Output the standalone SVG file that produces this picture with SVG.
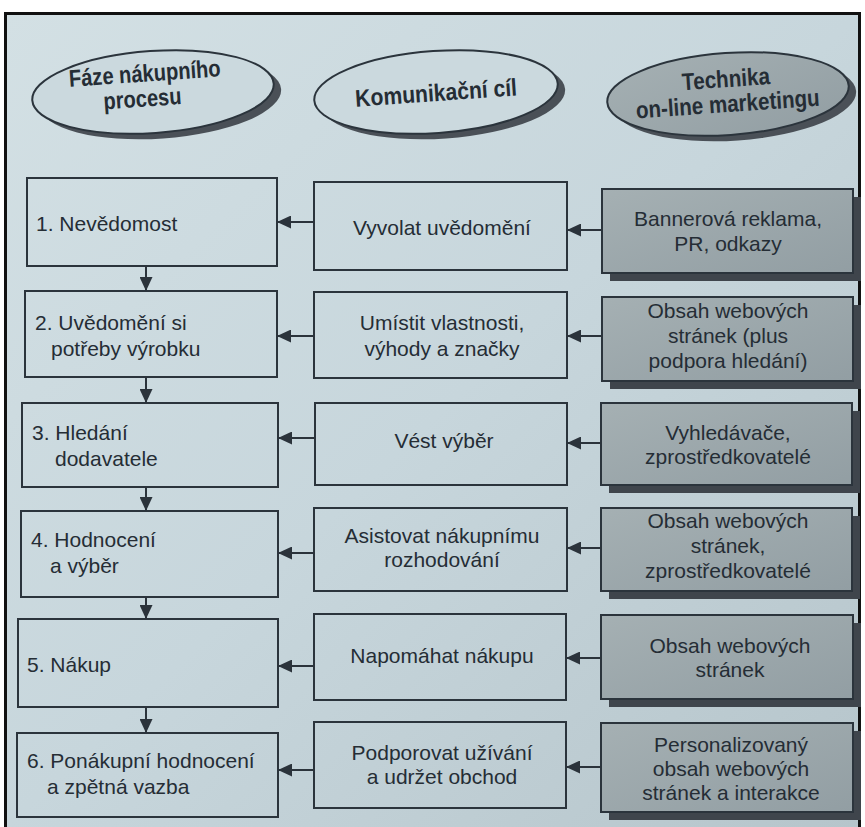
<svg xmlns="http://www.w3.org/2000/svg" width="865" height="827" viewBox="0 0 865 827">
<defs>
<linearGradient id="page" x1="0" y1="0" x2="1" y2="1">
<stop offset="0" stop-color="#d3e0e4"/>
<stop offset="0.5" stop-color="#c7d6dc"/>
<stop offset="1" stop-color="#b6c5cb"/>
</linearGradient>
<linearGradient id="gray" x1="0" y1="0" x2="1" y2="1">
<stop offset="0" stop-color="#a5b0b3"/>
<stop offset="1" stop-color="#929ea3"/>
</linearGradient>
<marker id="ah" markerUnits="userSpaceOnUse" markerWidth="14" markerHeight="13" refX="14" refY="6.5" orient="auto">
<path d="M0,0 L14,6.5 L0,13 z" fill="#2b333b"/>
</marker>
</defs>
<style>
.box{fill:none;stroke:#2b343c;stroke-width:2}
.gbox{fill:url(#gray);stroke:#2b343c;stroke-width:2}
.shadow{fill:#3f454c}
.ell{fill:#cbd9de;stroke:#2b343c;stroke-width:2}
.gell{fill:url(#gray);stroke:#2b343c;stroke-width:2}
.eshadow{fill:#4a5057}
.t{font-family:"Liberation Sans",Arial,sans-serif;font-size:21px;fill:#252d35}
.c{text-anchor:middle}
.h{font-family:"Liberation Sans Narrow","Liberation Sans",Arial,sans-serif;font-weight:bold;font-size:24px;fill:#252d35;text-anchor:middle}
.conn line{stroke:#2b333b;stroke-width:2;marker-end:url(#ah)}
</style>
<rect x="0" y="0" width="865" height="827" fill="#ffffff"/>
<rect x="6" y="13" width="853" height="814" fill="url(#page)"/>
<path d="M5.5,827 V13.5 H859.5 V827" fill="none" stroke="#111" stroke-width="3"/>

<g id="header1" transform="rotate(-4 153 92)">
<ellipse class="eshadow" cx="160" cy="98" rx="121" ry="41"/>
<ellipse class="ell" cx="153" cy="92" rx="121" ry="41"/>
<text class="h" x="146" y="81" textLength="152" lengthAdjust="spacingAndGlyphs">Fáze nákupního</text>
<text class="h" x="142" y="106" textLength="78" lengthAdjust="spacingAndGlyphs">procesu</text>
</g>
<g id="header2" transform="rotate(-4 436 92)">
<ellipse class="eshadow" cx="443" cy="98" rx="122" ry="41"/>
<ellipse class="ell" cx="436" cy="92" rx="122" ry="41"/>
<text class="h" x="436" y="101" textLength="162" lengthAdjust="spacingAndGlyphs">Komunikační cíl</text>
</g>
<g id="header3" transform="rotate(-4 728 94)">
<ellipse class="eshadow" cx="735" cy="100" rx="121" ry="41"/>
<ellipse class="gell" cx="728" cy="94" rx="121" ry="41"/>
<text class="h" x="727" y="87" textLength="88" lengthAdjust="spacingAndGlyphs">Technika</text>
<text class="h" x="727" y="112" textLength="184" lengthAdjust="spacingAndGlyphs">on-line marketingu</text>
</g>

<g id="phase1"><rect class="box" x="27" y="178" width="250" height="88"/>
<text class="t" x="36" y="231">1. Nevědomost</text></g>
<g id="phase2"><rect class="box" x="25" y="291" width="252" height="86"/>
<text class="t" x="35" y="330">2. Uvědomění si</text>
<text class="t" x="51" y="356">potřeby výrobku</text></g>
<g id="phase3"><rect class="box" x="22" y="403" width="256" height="84"/>
<text class="t" x="32" y="440">3. Hledání</text>
<text class="t" x="55" y="466">dodavatele</text></g>
<g id="phase4"><rect class="box" x="21" y="511" width="257" height="86"/>
<text class="t" x="31" y="547">4. Hodnocení</text>
<text class="t" x="50" y="573">a výběr</text></g>
<g id="phase5"><rect class="box" x="18" y="619" width="260" height="88"/>
<text class="t" x="27" y="672">5. Nákup</text></g>
<g id="phase6"><rect class="box" x="17" y="733" width="261" height="84"/>
<text class="t" x="27" y="768">6. Ponákupní hodnocení</text>
<text class="t" x="47" y="794">a zpětná vazba</text></g>

<g id="goal1"><rect class="box" x="314" y="182" width="253" height="88"/>
<text class="t c" x="442" y="235">Vyvolat uvědomění</text></g>
<g id="goal2"><rect class="box" x="314" y="292" width="253" height="86"/>
<text class="t c" x="442" y="330">Umístit vlastnosti,</text>
<text class="t c" x="442" y="356">výhody a značky</text></g>
<g id="goal3"><rect class="box" x="315" y="403" width="252" height="82"/>
<text class="t c" x="444" y="448">Vést výběr</text></g>
<g id="goal4"><rect class="box" x="314" y="508" width="253" height="83"/>
<text class="t c" x="442" y="543">Asistovat nákupnímu</text>
<text class="t c" x="442" y="567">rozhodování</text></g>
<g id="goal5"><rect class="box" x="314" y="614" width="252" height="86"/>
<text class="t c" x="442" y="663">Napomáhat nákupu</text></g>
<g id="goal6"><rect class="box" x="314" y="722" width="252" height="86"/>
<text class="t c" x="442" y="760">Podporovat užívání</text>
<text class="t c" x="442" y="784">a udržet obchod</text></g>

<g id="tech1"><rect class="shadow" x="610" y="197" width="251" height="84"/>
<rect class="gbox" x="602" y="189" width="251" height="84"/>
<text class="t c" x="728" y="226">Bannerová reklama,</text>
<text class="t c" x="728" y="251">PR, odkazy</text></g>
<g id="tech2"><rect class="shadow" x="610" y="305" width="251" height="84"/>
<rect class="gbox" x="602" y="297" width="251" height="84"/>
<text class="t c" x="728" y="318">Obsah webových</text>
<text class="t c" x="728" y="343">stránek (plus</text>
<text class="t c" x="728" y="368">podpora hledání)</text></g>
<g id="tech3"><rect class="shadow" x="609" y="411" width="251" height="82"/>
<rect class="gbox" x="601" y="403" width="251" height="82"/>
<text class="t c" x="728" y="440">Vyhledávače,</text>
<text class="t c" x="728" y="464">zprostředkovatelé</text></g>
<g id="tech4"><rect class="shadow" x="609" y="516" width="251" height="83"/>
<rect class="gbox" x="601" y="508" width="251" height="83"/>
<text class="t c" x="728" y="528">Obsah webových</text>
<text class="t c" x="728" y="553">stránek,</text>
<text class="t c" x="728" y="578">zprostředkovatelé</text></g>
<g id="tech5"><rect class="shadow" x="609" y="623" width="252" height="84"/>
<rect class="gbox" x="601" y="615" width="252" height="84"/>
<text class="t c" x="730" y="653">Obsah webových</text>
<text class="t c" x="730" y="677">stránek</text></g>
<g id="tech6"><rect class="shadow" x="609" y="731" width="252" height="89"/>
<rect class="gbox" x="601" y="723" width="252" height="89"/>
<text class="t c" x="731" y="752">Personalizovaný</text>
<text class="t c" x="731" y="776">obsah webových</text>
<text class="t c" x="731" y="800">stránek a interakce</text></g>

<g id="connectors" class="conn">
<line x1="602" y1="230" x2="567" y2="230"/>
<line x1="602" y1="336" x2="567" y2="336"/>
<line x1="601" y1="443" x2="567" y2="443"/>
<line x1="601" y1="548" x2="567" y2="548"/>
<line x1="601" y1="658" x2="566" y2="658"/>
<line x1="601" y1="767" x2="566" y2="767"/>
<line x1="314" y1="222" x2="277" y2="222"/>
<line x1="314" y1="336" x2="277" y2="336"/>
<line x1="315" y1="438" x2="278" y2="438"/>
<line x1="314" y1="553" x2="278" y2="553"/>
<line x1="314" y1="666" x2="278" y2="666"/>
<line x1="314" y1="770" x2="278" y2="770"/>
<line x1="146" y1="266" x2="146" y2="291"/>
<line x1="146" y1="377" x2="146" y2="403"/>
<line x1="146" y1="487" x2="146" y2="511"/>
<line x1="146" y1="597" x2="146" y2="619"/>
<line x1="146" y1="707" x2="146" y2="733"/>
</g>
</svg>
